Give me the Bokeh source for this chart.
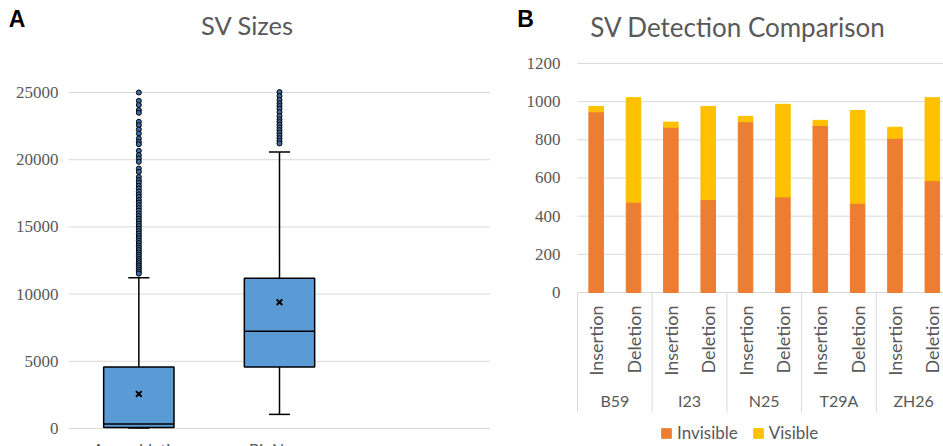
import math
from bokeh.plotting import figure
from bokeh.layouts import row
from bokeh.models import (Range1d, Label, Legend, LegendItem, ColumnDataSource)
from bokeh.embed import file_html
from bokeh.resources import INLINE

# ---------------- data: panel A (box plot) ----------------
box_categories = ["Assemblytics", "BioNano"]
box_x = [0.5, 1.5]
box_lower = [30, 1050]
box_q1 = [80, 4580]
box_median = [330, 7240]
box_q3 = [4580, 11180]
box_upper = [11220, 20575]
box_mean = [2570, 9400]
outliers_assemblytics = [25000, 24380, 24070, 23690, 23490, 22820, 22570, 22250, 21950, 21580,
                         21330, 21150, 20660, 20340, 20090, 19840, 19340, 19090, 18720,
                         18470, 18280, 18050, 17860, 17640, 17420, 17230, 17000, 16810, 16620,
                         16400, 16210, 16000, 15810, 15620, 15430, 15240, 15060, 14870, 14690,
                         14500, 14320, 14150, 13970, 13800, 13620, 13450, 13280, 13110, 12940,
                         12780, 12610, 12450, 12290, 12130, 11980, 11820, 11670, 11520]
outliers_bionano = [25030, 24740, 24440, 24190, 23990, 23790, 23540, 23240, 22990, 22800,
                    22600, 22400, 22200, 22000, 21800, 21600, 21400, 21210]
a_yticks = [0, 5000, 10000, 15000, 20000, 25000]
a_ylabels = ["0", "5000", "10000", "15000", "20000", "25000"]

# ---------------- data: panel B (stacked bars) ----------------
groups = ["B59", "I23", "N25", "T29A", "ZH26"]
sv_types = ["Insertion", "Deletion"]
invisible = [947, 473, 866, 487, 895, 501, 875, 468, 808, 586]
visible = [28, 548, 27, 488, 28, 485, 27, 486, 58, 435]
b_yticks = [0, 200, 400, 600, 800, 1000, 1200]
b_ylabels = ["0", "200", "400", "600", "800", "1000", "1200"]
group_bounds = [0, 2, 4, 6, 8, 10]

GRID = "#d9d9d9"
TXT = "#595959"
FONT = "Lato"
BLUE = "#5b9bd5"
ORANGE = "#ed7d31"
YELLOW = "#ffc000"
H = 446


def base_fig(width, xr, yr):
    p = figure(width=width, height=H, output_backend="svg", toolbar_location=None,
               x_range=Range1d(*xr), y_range=Range1d(*yr),
               x_axis_type=None, y_axis_type=None,
               min_border_left=0, min_border_right=0, min_border_top=0, min_border_bottom=0)
    p.outline_line_color = None
    p.grid.visible = False
    return p


def slabel(p, x, y, text, size, color=TXT, font=FONT, bold=False, align="left",
           baseline="middle", x_units="screen", angle=0.0):
    p.add_layout(Label(x=x, y=y, x_units=x_units, y_units="screen", text=text,
                       text_font=font, text_font_style="bold" if bold else "normal",
                       text_font_size=size, text_color=color, text_align=align,
                       text_baseline=baseline, angle=angle))


# ================= Panel A =================
pa = base_fig(490, (-0.4834, 3.0), (-1339.3, 31845))
n = len(a_yticks)
pa.segment(x0=[0] * n, y0=a_yticks, x1=[3] * n, y1=a_yticks, line_color=GRID, line_width=1)
pa.text(x=[0] * n, y=a_yticks, text=a_ylabels, x_offset=-10, text_align="right",
        text_baseline="middle", text_font="Lato", text_font_size="17px", text_color=TXT)

src_box = ColumnDataSource(dict(x=box_x, lower=box_lower, q1=box_q1, med=box_median,
                                q3=box_q3, upper=box_upper, mean=box_mean,
                                xl=[v - 0.25 for v in box_x], xr=[v + 0.25 for v in box_x],
                                cl=[v - 0.075 for v in box_x], cr=[v + 0.075 for v in box_x]))
pa.segment(x0="x", y0="q3", x1="x", y1="upper", source=src_box, line_color="black", line_width=1.5)
pa.segment(x0="x", y0="q1", x1="x", y1="lower", source=src_box, line_color="black", line_width=1.5)
pa.segment(x0="cl", y0="upper", x1="cr", y1="upper", source=src_box, line_color="black", line_width=1.5)
pa.segment(x0="cl", y0="lower", x1="cr", y1="lower", source=src_box, line_color="black", line_width=1.5)
pa.vbar(x="x", width=0.5, bottom="q1", top="q3", source=src_box, fill_color=BLUE,
        line_color="black", line_width=1.5)
pa.segment(x0="xl", y0="med", x1="xr", y1="med", source=src_box, line_color="black", line_width=1.5)
pa.scatter(x="x", y="mean", source=src_box, marker="x", size=8, line_color="black", line_width=2)

ox = [box_x[0]] * len(outliers_assemblytics) + [box_x[1]] * len(outliers_bionano)
oy = outliers_assemblytics + outliers_bionano
pa.scatter(ox, oy, marker="circle", size=5, fill_color="#3b6ea8", line_color="black", line_width=1)

slabel(pa, 8.3, 427.3, "A", "23px", color="black", font="Liberation Sans", bold=True)
slabel(pa, 247, 421.6, "SV Sizes", "25.5px", align="center")
for xv, name in zip(box_x, box_categories):
    slabel(pa, xv, 8, name, "16px", align="center", baseline="top", x_units="data")

# ================= Panel B =================
bar_x = [g * 2 + t + 0.5 for g in range(len(groups)) for t in range(len(sv_types))]
bar_type = [t for g in groups for t in sv_types]
src_bar = ColumnDataSource(dict(x=bar_x, invisible=invisible, visible=visible))

pb = base_fig(453, (-2.329, 9.799), (-807.0, 1530.1))
m = len(b_yticks)
pb.segment(x0=[0] * m, y0=b_yticks, x1=[10] * m, y1=b_yticks, line_color=GRID, line_width=1)
pb.text(x=[0] * m, y=b_yticks, text=b_ylabels, x_offset=-17, text_align="right",
        text_baseline="middle", text_font="Lato", text_font_size="17px", text_color=TXT)

# category separators below the axis
pb.segment(x0=group_bounds, y0=[0] * len(group_bounds), x1=group_bounds,
           y1=[-627] * len(group_bounds), line_color=GRID, line_width=1)

rs = pb.vbar_stack(["invisible", "visible"], x="x", width=0.39, color=[ORANGE, YELLOW],
                   source=src_bar)

for xv, t in zip(bar_x, bar_type):
    slabel(pb, xv, 141, t, "18px", align="right", baseline="middle", x_units="data",
           angle=math.pi / 2)
for i, g in enumerate(groups):
    slabel(pb, (group_bounds[i] + group_bounds[i + 1]) / 2, 46, g, "16px", align="center",
           baseline="middle", x_units="data")

slabel(pb, 26.7, 427.3, "B", "23px", color="black", font="Liberation Sans", bold=True)
slabel(pb, 247.5, 419.4, "SV Detection Comparison", "26px", align="center")

legend = Legend(items=[LegendItem(label="Invisible", renderers=[rs[0]]),
                       LegendItem(label="Visible", renderers=[rs[1]])],
                location=(170, 3), orientation="horizontal",
                label_text_font=FONT, label_text_font_size="17px", label_text_color=TXT,
                glyph_width=12, glyph_height=12, label_standoff=5, spacing=14,
                padding=0, margin=0, border_line_color=None, background_fill_alpha=0)
pb.add_layout(legend)

layout = row(pa, pb)
open("out.html", "w").write(file_html(layout, INLINE))
